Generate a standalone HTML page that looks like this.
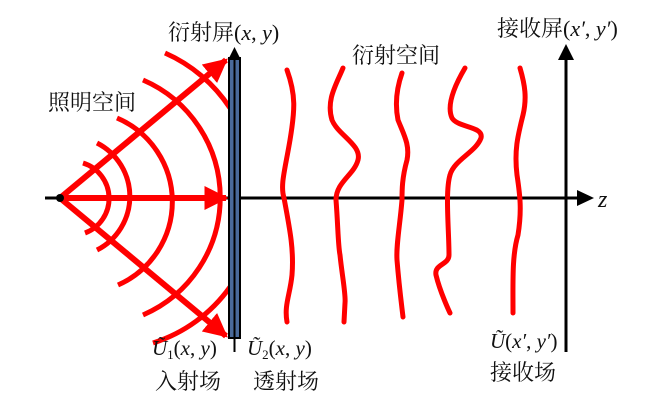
<!DOCTYPE html>
<html><head><meta charset="utf-8"><style>
body{margin:0;background:#fff}
svg{display:block}
text{font-family:"Liberation Serif","Noto Serif CJK SC",serif;fill:#111}
.cn{font-family:"Liberation Serif","Noto Serif CJK SC",serif;font-size:22px}
.it{font-style:italic}
</style></head><body>
<svg width="671" height="405" viewBox="0 0 671 405">
<defs>
<marker id="ra" viewBox="0 0 10 10" refX="9" refY="5" markerWidth="4" markerHeight="4" orient="auto" markerUnits="strokeWidth"><path d="M0,0 L10,5 L0,10 z" fill="#f00"/></marker>
</defs>
<g>
<line x1="45" y1="198" x2="580" y2="198" stroke="#000" stroke-width="3"/>
<path d="M577,190 L594,198 L577,206 z" fill="#000"/>
</g>
<text x="598" y="207" class="it" font-size="24">z</text>
<g>
<line x1="566" y1="352" x2="566" y2="58" stroke="#000" stroke-width="3"/>
<path d="M558,60 L566,44 L574,60 z" fill="#000"/>
</g>
<g fill="none" stroke="#f00" stroke-width="5">
<path d="M83,163 A37,37 0 0 1 85,233"/>
<path d="M97,143 A60,60 0 0 1 97,250"/>
<path d="M117,118 A91,91 0 0 1 118,285"/>
<path d="M143,80 A128,128 0 0 1 143,315"/>
<path d="M165,53 A150,150 0 0 1 230,108"/>
<path d="M230,287 A150,150 0 0 1 153,343"/>
</g>
<g stroke="#f00" stroke-width="6" fill="none">
<line x1="60" y1="198" x2="226" y2="60" marker-end="url(#ra)"/>
<line x1="60" y1="198" x2="226" y2="198" marker-end="url(#ra)"/>
<line x1="60" y1="198" x2="226" y2="336" marker-end="url(#ra)"/>
</g>
<circle cx="60" cy="198" r="4" fill="#000"/>
<g>
<rect x="229" y="58" width="11" height="280" fill="#4a6a9a" stroke="#000" stroke-width="2"/>
<line x1="234.5" y1="352" x2="234.5" y2="58" stroke="#000" stroke-width="2"/>
<path d="M228,60 L234.5,47 L241,60 z" fill="#000"/>
</g>
<g fill="none" stroke="#f00" stroke-width="5" stroke-linecap="round" stroke-linejoin="round">
<path d="M287,70 C296,95 295,110 290,140 C285,170 280,185 284,198 C290,230 294,250 292,275 C290,295 284,305 287,322"/>
<path d="M343,68 C336,85 326,100 332,120 C338,135 362,145 358,160 C354,175 336,182 336,200 C338,225 338,245 340,255 C342,275 346,295 345,303 L344,322"/>
<path d="M402,73 C396,90 395,105 398,120 C404,135 410,145 407,160 C402,178 402,190 402,200 C400,225 396,245 397,260 C399,285 401,300 403,317"/>
<path d="M465,68 C455,85 446,105 452,118 C458,128 484,126 481,138 C476,152 454,160 450,175 C445,192 449,230 449,255 C449,265 434,264 436,275 C440,292 450,313 450,313"/>
<path d="M520,68 C525,85 527,98 523,115 C518,135 514,150 517,175 C520,195 522,210 518,235 C512,255 513,280 513,313"/>
</g>
<text x="168" y="40"><tspan class="cn">衍射屏</tspan><tspan font-size="22">(</tspan><tspan class="it" font-size="22">x</tspan><tspan font-size="22">, </tspan><tspan class="it" font-size="22">y</tspan><tspan font-size="22">)</tspan></text>
<text x="48" y="110" class="cn">照明空间</text>
<text x="352" y="63" class="cn">衍射空间</text>
<text x="497" y="36"><tspan class="cn">接收屏</tspan><tspan font-size="22">(</tspan><tspan class="it" font-size="22">x′</tspan><tspan font-size="22">, </tspan><tspan class="it" font-size="22">y′</tspan><tspan font-size="22">)</tspan></text>
<text x="152" y="355" font-size="21"><tspan class="it">Ũ</tspan><tspan font-size="13" dy="4">1</tspan><tspan dy="-4">(</tspan><tspan class="it">x</tspan>, <tspan class="it">y</tspan>)</text>
<text x="247" y="355" font-size="21"><tspan class="it">Ũ</tspan><tspan font-size="13" dy="4">2</tspan><tspan dy="-4">(</tspan><tspan class="it">x</tspan>, <tspan class="it">y</tspan>)</text>
<text x="490" y="348" font-size="21"><tspan class="it">Ũ</tspan>(<tspan class="it">x′</tspan>, <tspan class="it">y′</tspan>)</text>
<text x="155" y="389" class="cn">入射场</text>
<text x="253" y="389" class="cn">透射场</text>
<text x="490" y="380" class="cn">接收场</text>
</svg>
</body></html>
